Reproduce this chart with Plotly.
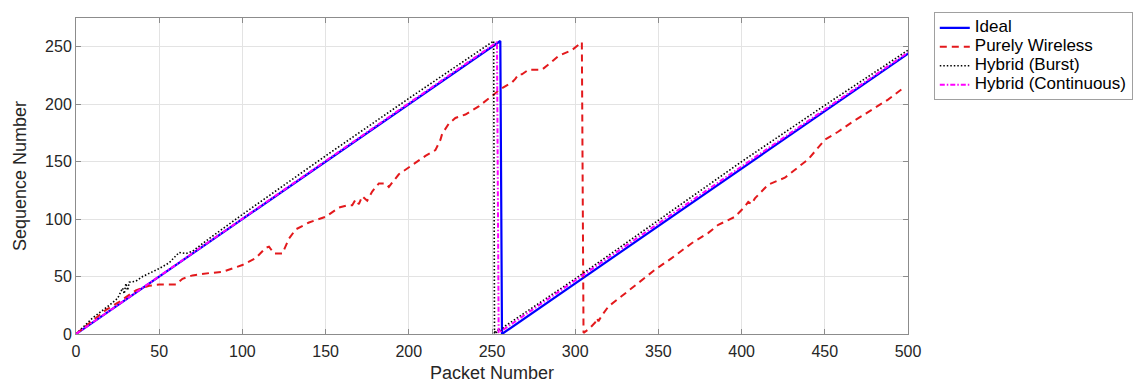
import plotly.graph_objects as go

# ---- data ----
ideal_x = [0, 255, 256, 500]
ideal_y = [0, 255, 0, 244]

wireless_x = [0, 8, 18, 26, 36, 40, 44, 50, 56, 60, 64, 70, 80, 88, 96, 100, 108, 114, 116, 119,
              124, 126, 128, 132, 140, 150, 158, 163, 166, 168, 170, 172, 175, 178, 182, 186, 188,
              194, 202, 210, 216, 219, 220, 224, 228, 234, 242, 250, 255, 262, 264, 266, 268, 272,
              280, 286, 290, 298, 304, 305, 308, 310, 312, 313, 314, 316, 320, 328, 336, 344, 348,
              358, 370, 380, 386, 396, 402, 404, 406, 408, 416, 426, 434, 440, 450, 458, 466, 480,
              488, 498]
wireless_y = [0, 9, 21, 28, 38, 40, 42, 43, 43, 43, 48, 51, 53, 54, 58, 60, 66, 75, 76, 70,
              70, 77, 83, 91, 97, 102, 110, 112, 112, 117, 113, 120, 116, 124, 131, 131, 128,
              139, 147, 155, 160, 169, 174, 183, 188, 191, 198, 207, 213, 219, 222, 226, 226, 230,
              230, 237, 242, 247, 254, 1, 4, 7, 10, 14, 11, 16, 24, 33, 42, 51, 56,
              66, 79, 88, 95, 102, 111, 115, 113, 118, 130, 136, 145, 152, 169, 176, 184, 197,
              204, 215]

burst_x = [0, 10, 20, 25, 28, 29, 30, 31, 32, 36, 40, 50, 56, 60, 62, 66, 70, 80, 100, 150, 200,
           251, 251.5, 252, 253, 254, 255, 256, 258, 300, 350, 400, 450, 500]
burst_y = [0, 14, 25, 31, 40, 35, 44, 38, 45, 46, 50, 57, 62, 68, 71, 70, 72, 83, 104, 155, 205,
           255, 0, 3, 1, 5, 2, 4, 7, 48, 99, 150, 199, 247]

cont_x = [0, 253, 254, 500]
cont_y = [0, 254, 1, 245]

x_ticks = [0, 50, 100, 150, 200, 250, 300, 350, 400, 450, 500]
y_ticks = [0, 50, 100, 150, 200, 250]

series_names = ["Ideal", "Purely Wireless", "Hybrid (Burst)", "Hybrid (Continuous)"]

FONT = "Liberation Sans, Arial, Helvetica, sans-serif"


def legend_label(name):
    # larger text inside a compact legend row (MATLAB-style tight legend)
    return "<span style='font-size:17px'>" + name + "</span>"


fig = go.Figure()
fig.add_trace(go.Scatter(x=ideal_x, y=ideal_y, mode="lines", name=legend_label(series_names[0]),
                         line=dict(color="#0000ff", width=2.2)))
fig.add_trace(go.Scatter(x=wireless_x, y=wireless_y, mode="lines", name=legend_label(series_names[1]),
                         line=dict(color="#e3191c", width=2, dash="7px,5px")))
fig.add_trace(go.Scatter(x=burst_x, y=burst_y, mode="lines", name=legend_label(series_names[2]),
                         line=dict(color="#000000", width=1.6, dash="1.5px,2px")))
fig.add_trace(go.Scatter(x=cont_x, y=cont_y, mode="lines", name=legend_label(series_names[3]),
                         line=dict(color="#ff00ff", width=2, dash="5px,2px,1.5px,2px")))

axis_common = dict(
    showgrid=True, gridcolor="#e3e3e3", gridwidth=1,
    showline=True, linecolor="#8c8c8c", linewidth=1, mirror="ticks",
    ticks="inside", ticklen=5, tickcolor="#8c8c8c",
    zeroline=False,
    tickfont=dict(family=FONT, size=16, color="#262626"),
)

fig.update_xaxes(range=[0, 500], tickvals=x_ticks, ticktext=[str(v) for v in x_ticks],
                 ticklabelstandoff=3,
                 title=dict(text="Packet Number", font=dict(family=FONT, size=18, color="#262626"),
                            standoff=7),
                 **axis_common)
fig.update_yaxes(range=[0, 275], tickvals=y_ticks, ticktext=[str(v) for v in y_ticks],
                 title=dict(text="Sequence Number", font=dict(family=FONT, size=18, color="#262626"),
                            standoff=13),
                 **axis_common)

fig.update_layout(
    width=1145, height=392,
    margin=dict(l=76, r=235, t=13, b=49),
    paper_bgcolor="white", plot_bgcolor="white",
    font=dict(family=FONT, color="#262626"),
    showlegend=True,
    legend=dict(x=1.031, y=1.018, xanchor="left", yanchor="top",
                bgcolor="white", bordercolor="#a0a0a0", borderwidth=1,
                font=dict(family=FONT, size=12, color="#000000"),
                tracegroupgap=0, itemwidth=30),
)

fig.write_html("out.html", config={"displayModeBar": False},
               post_script="document.body.style.margin='0';")
